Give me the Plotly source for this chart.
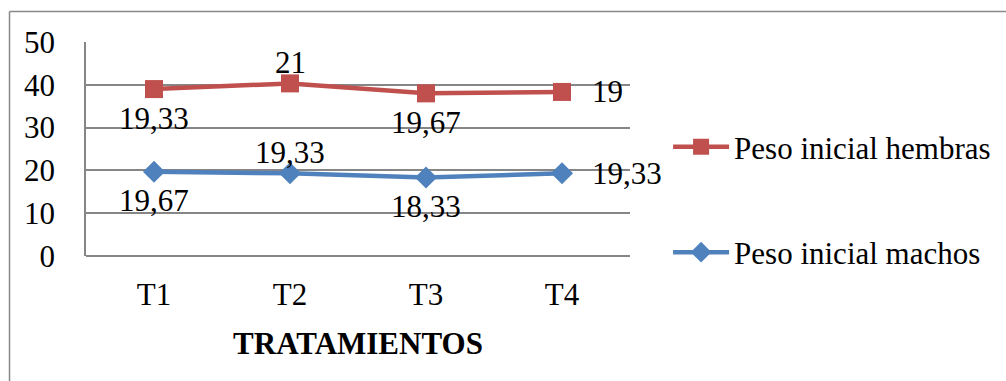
import plotly.graph_objects as go

# Treatments and initial weights per sex
categories = ["T1", "T2", "T3", "T4"]
machos = [19.67, 19.33, 18.33, 19.33]
hembras = [19.33, 21, 19.67, 19]
y_ticks = [0, 10, 20, 30, 40, 50]

# label placement for each point (both series)
label_side = ["below", "above", "below", "right"]

RED = "#C0504D"
BLUE = "#4F81BD"
GRID = "#868686"
FONT = "Liberation Serif, Times New Roman, serif"
FS = 31

# stacked line: hembras sits on top of machos
hembras_top = [m + h for m, h in zip(machos, hembras)]


def fmt(v):
    return f"{v:g}".replace(".", ",")


fig = go.Figure()
fig.add_trace(go.Scatter(
    x=categories, y=machos, name="Peso inicial machos", mode="lines+markers",
    line=dict(color=BLUE, width=4.5),
    marker=dict(symbol="diamond", size=17, color=BLUE),
    legendgroup="m", legendrank=2,
))
fig.add_trace(go.Scatter(
    x=categories, y=hembras_top, name="Peso inicial hembras", mode="lines+markers",
    line=dict(color=RED, width=4.5),
    marker=dict(symbol="square", size=18, color=RED),
    legendgroup="h", legendrank=1,
))

annotations = []
for vals, ys in ((machos, machos), (hembras, hembras_top)):
    for cat, v, y, side in zip(categories, vals, ys, label_side):
        a = dict(x=cat, y=y, text=fmt(v), showarrow=False,
                 font=dict(family=FONT, size=FS, color="#000000"))
        if side == "below":
            a.update(yshift=-29)
        elif side == "above":
            a.update(yshift=21)
        else:
            a.update(xanchor="left", xshift=28)
        annotations.append(a)

# chart frame (top and left edges)
shapes = [
    dict(type="line", xref="paper", yref="paper", x0=-0.1406, x1=1.70, y0=1.1425, y1=1.1425,
         line=dict(color="#888888", width=1.5)),
    dict(type="line", xref="paper", yref="paper", x0=-0.1406, x1=-0.1406, y0=1.1425, y1=-0.62,
         line=dict(color="#888888", width=1.5)),
]

fig.update_layout(
    width=1006, height=381,
    margin=dict(l=86, r=376, t=42, b=125, autoexpand=False),
    paper_bgcolor="white", plot_bgcolor="white",
    font=dict(family=FONT, size=FS, color="#000000"),
    showlegend=True,
    legend=dict(
        x=1.07, y=0.263, xanchor="left", yanchor="middle",
        traceorder="grouped", tracegroupgap=62, itemwidth=56,
        font=dict(family=FONT, size=FS),
        bgcolor="rgba(0,0,0,0)",
    ),
    annotations=annotations,
    shapes=shapes,
    xaxis=dict(
        range=[-0.5, 3.5], showgrid=False, showline=False, ticks="",
        tickfont=dict(family=FONT, size=FS), ticklabelstandoff=17,
        title=dict(text="<b>TRATAMIENTOS</b>", font=dict(family=FONT, size=31), standoff=21),
        fixedrange=True,
    ),
    yaxis=dict(
        range=[0, 50], tickvals=y_ticks, showgrid=True, gridcolor=GRID, gridwidth=1.5,
        zeroline=True, zerolinecolor=GRID, zerolinewidth=1.5,
        showline=True, linecolor=GRID, linewidth=1.5, ticks="",
        tickfont=dict(family=FONT, size=FS), ticklabelstandoff=23,
        fixedrange=True,
    ),
)

fig.write_html("out.html")
